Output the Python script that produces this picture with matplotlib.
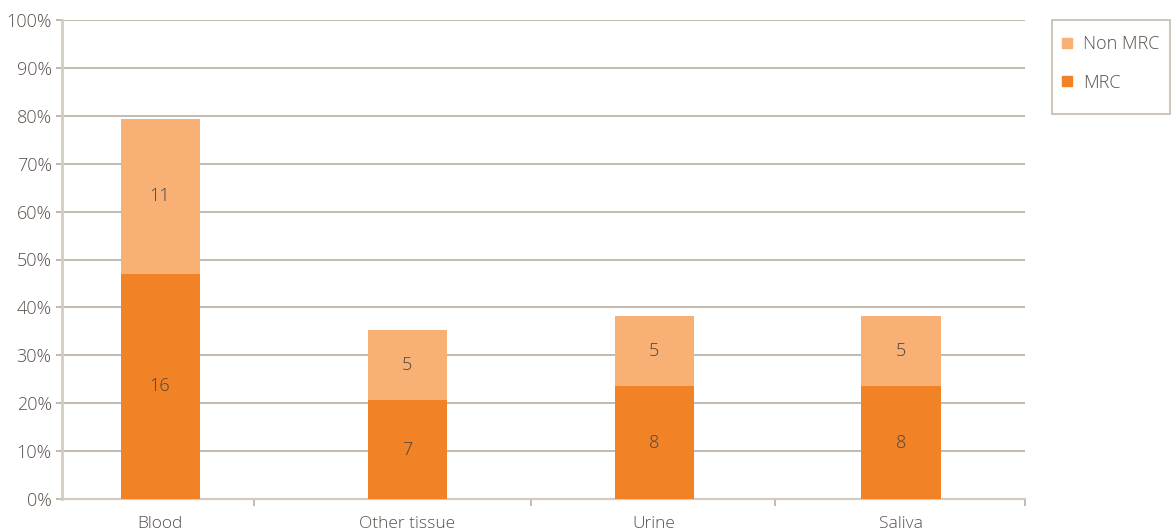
import matplotlib
matplotlib.use("Agg")
import matplotlib.pyplot as plt
from matplotlib.lines import Line2D
from matplotlib.patches import Rectangle
import numpy as np

# Sample types and counts of positive samples (n = 34 patients)
categories = ["Blood", "Other tissue", "Urine", "Saliva"]
mrc_counts = [16, 7, 8, 8]
non_mrc_counts = [11, 5, 5, 5]
total_patients = 34
y_ticks = [0, 10, 20, 30, 40, 50, 60, 70, 80, 90, 100]

mrc_pct = [c / total_patients * 100 for c in mrc_counts]
non_mrc_pct = [c / total_patients * 100 for c in non_mrc_counts]

MRC_COLOR = "#f28226"
NON_MRC_COLOR = "#f8b074"
TEXT_COLOR = "#5a4f4a"
VALUE_COLOR = "#4a4644"
GRID_COLOR = "#bdb3a8"
SPINE_COLOR = "#d3ccc3"

plt.rcParams["font.family"] = ["Open Sans", "DejaVu Sans"]
plt.rcParams["font.weight"] = "light"

fig = plt.figure(figsize=(11.71, 5.32), dpi=100)
ax = fig.add_axes([62 / 1171, 33 / 532, (1025 - 62) / 1171, (499 - 20) / 532])

x = np.arange(len(categories))
width = 0.32
ax.bar(x, mrc_pct, width, color=MRC_COLOR, zorder=3)
ax.bar(x, non_mrc_pct, width, bottom=mrc_pct, color=NON_MRC_COLOR, zorder=3)

for xi, m, nm, mc, nc in zip(x, mrc_pct, non_mrc_pct, mrc_counts, non_mrc_counts):
    ax.text(xi, m / 2, str(mc), ha="center", va="center", fontsize=13,
            color=VALUE_COLOR, zorder=4)
    ax.text(xi, m + nm / 2, str(nc), ha="center", va="center", fontsize=13,
            color=VALUE_COLOR, zorder=4)

ax.set_xlim(-0.397, 3.502)
ax.set_ylim(0, 100)
ax.set_yticks(y_ticks)
ax.set_yticklabels([f"{t}%" for t in y_ticks])
ax.yaxis.grid(True, color=GRID_COLOR, linewidth=1.3, zorder=0)
ax.set_axisbelow(True)

ax.set_xticks(x)
ax.set_xticklabels(categories)
ax.set_xticks([0.38, 1.5, 2.49, 3.5], minor=True)
ax.tick_params(axis="x", which="major", length=0, pad=12, labelsize=12.5,
               labelcolor=TEXT_COLOR)
ax.tick_params(axis="x", which="minor", length=5, width=1.3, color=GRID_COLOR)
ax.tick_params(axis="y", length=4, width=1.3, color=GRID_COLOR, pad=3.5,
               labelsize=13, labelcolor=TEXT_COLOR)

for side in ["top", "right"]:
    ax.spines[side].set_visible(False)
ax.spines["left"].set_color(SPINE_COLOR)
ax.spines["left"].set_linewidth(2)
ax.spines["bottom"].set_color(SPINE_COLOR)
ax.spines["bottom"].set_linewidth(1.6)

# Legend with a separate frame box
fig.patches.append(Rectangle((1052 / 1171, 1 - 114 / 532), (1170 - 1052) / 1171,
                             (114 - 20) / 532, transform=fig.transFigure,
                             facecolor="white", edgecolor="#c9c0b6", linewidth=1.3))
handles = [
    Line2D([], [], linestyle="none", marker="s", markersize=7.5,
           markerfacecolor=NON_MRC_COLOR, markeredgecolor=NON_MRC_COLOR),
    Line2D([], [], linestyle="none", marker="s", markersize=7.5,
           markerfacecolor=MRC_COLOR, markeredgecolor=MRC_COLOR),
]
fig.legend(handles, ["Non MRC", "MRC"], loc="upper left",
           bbox_to_anchor=(1058 / 1171, 1 - 35 / 532), frameon=False,
           fontsize=13, labelcolor=TEXT_COLOR, handlelength=1.0,
           handletextpad=0.4, labelspacing=1.15, borderpad=0, borderaxespad=0)

fig.savefig("out.png", dpi=100)
